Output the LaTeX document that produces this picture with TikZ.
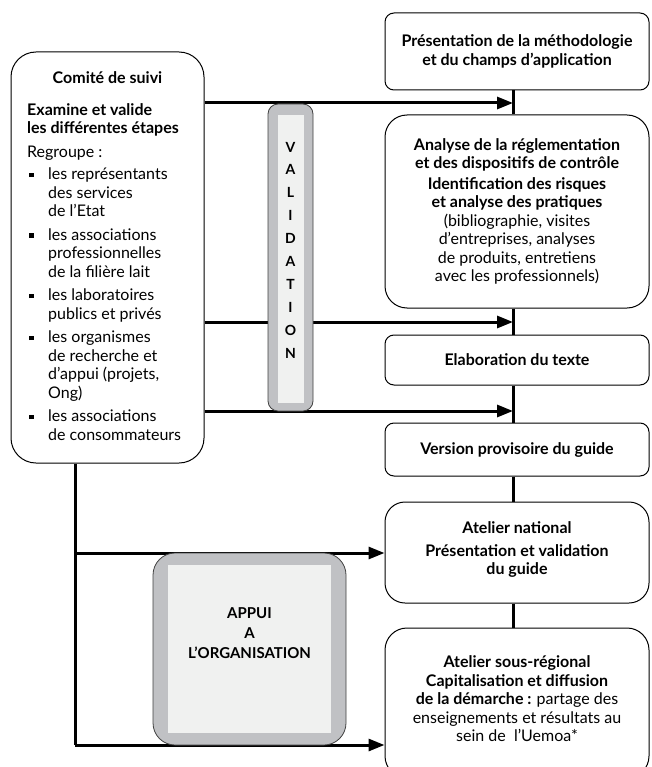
\documentclass[tikz,border=0pt]{standalone}
\usepackage{fontspec}
\setmainfont{Lato}
\usetikzlibrary{arrows.meta, positioning}
\tikzset{>={Triangle[length=16pt,width=12pt]}}
\definecolor{barfill}{RGB}{192,193,196}
\definecolor{barin}{RGB}{240,241,240}
\newcommand{\puce}{\makebox[21pt][l]{\hspace{2pt}\raisebox{2.5pt}{\rule{4.5pt}{4.5pt}}}}
\newcommand{\retrait}{\hspace*{21pt}}

\begin{document}
\begin{tikzpicture}[x=1pt, y=-1pt,
    etape/.style={draw, line width=1pt, rounded corners=9pt, align=center, inner sep=0pt,
      minimum width=264pt, font=\bfseries\fontsize{16}{18.5}\selectfont},
    cadre/.style={draw, line width=1pt, rounded corners=25pt, inner sep=0pt},
    fleche/.style={line width=3pt},
    barre/.style={draw=black!75, line width=0.8pt, fill=barfill, rounded corners=10pt, inner sep=0pt}]
		\useasboundingbox (0,0) rectangle (651,767);
		% etapes
		\node[etape, minimum height=77pt] (pres) at (517,51.5) {Présentation de la méthodologie\\et du champs d’application};
		\node[etape, rounded corners=22pt, minimum height=193pt] (anal) at (517,211.5) {Analyse de la réglementation\\et des dispositifs de contrôle\\[2pt]
			Identification des risques\\et analyse des pratiques\\
			\mdseries(bibliographie, visites\\\mdseries d’entreprises, analyses\\\mdseries de produits, entretiens\\\mdseries avec les professionnels)};
		\node[etape, minimum height=50pt] (elab) at (517,360) {Elaboration du texte};
		\node[etape, minimum height=53pt] (vers) at (517,449.5) {Version provisoire du guide};
		\node[etape, rounded corners=20pt, minimum height=101pt] (atnat) at (517,552.5) {Atelier national\\[4pt]Présentation et validation\\du guide\\[-10pt]};
		\node[etape, rounded corners=22pt, minimum height=150pt] (atsr) at (517,703) {Atelier sous-régional\\Capitalisation et diffusion\\
			de la démarche : \mdseries partage des\\\mdseries enseignements et résultats au\\\mdseries sein de\ \ l’Uemoa*\\[-10.5pt]};
		% comite
		\node[cadre, minimum width=193pt, minimum height=411pt] (suivi) at (107.5,257.5) {};
		\node[font=\bfseries\fontsize{16}{18.5}\selectfont] (titre) at (107.5,78) {Comité de suivi};
		\node[anchor=north west, align=left, inner sep=0pt, font=\fontsize{16}{18.5}\selectfont] (membres) at (27,103) {%
			\textbf{Examine et valide}\\\textbf{les différentes étapes}\\[5pt]
			Regroupe :\\[4pt]
			\puce les représentants\\\retrait des services\\\retrait de l’Etat\\[5pt]
			\puce les associations\\\retrait professionnelles\\\retrait de la filière lait\\[5pt]
			\puce les laboratoires\\\retrait publics et privés\\[5pt]
			\puce les organismes\\\retrait de recherche et\\\retrait d’appui (projets,\\\retrait Ong)\\[5pt]
			\puce les associations\\\retrait de consommateurs};
		% liaisons
		\coordinate (j1) at (513,103);
		\coordinate (j2) at (513,322);
		\coordinate (j3) at (513,411);
		\coordinate (c1) at (75,553);
		\coordinate (c2) at (75,745);
		\draw[fleche] (pres.south -| j1) -- (anal.north -| j1);
		\draw[fleche] (anal.south -| j1) -- (elab.north -| j1);
		\draw[fleche] (elab.south -| j1) -- (vers.north -| j1);
		\draw[fleche] (vers.south -| j1) -- (atnat.north -| j1);
		\draw[fleche] (atnat.south -| j1) -- (atsr.north -| j1);
		\draw[fleche, ->] (suivi.east |- j1) -- (j1);
		\draw[fleche, ->] (suivi.east |- j2) -- (j2);
		\draw[fleche, ->] (suivi.east |- j3) -- (j3);
		\draw[fleche] (suivi.south -| c1) -- (c2);
		\draw[fleche, ->] (c1) -- (atnat.west |- c1);
		\draw[fleche, ->] (c2) -- (atsr.west |- c2);
		% validation
		\node[barre, minimum width=45pt, minimum height=307pt] (valid) at (290.5,257.5) {};
		\fill[barin] ([shift={(10,11)}]valid.north west) rectangle ([shift={(-9,-8)}]valid.south east);
		\node[align=center, font=\bfseries\fontsize{14}{22.9}\selectfont] (vtxt) at (290.5,250) {V\\A\\L\\I\\D\\A\\T\\I\\O\\N};
		% appui
		\node[barre, rounded corners=22pt, minimum width=193pt, minimum height=192pt] (appui) at (249.5,649) {};
		\fill[barin] ([shift={(15,12)}]appui.north west) rectangle ([shift={(-15,-12)}]appui.south east);
		\node[align=center, font=\bfseries\fontsize{15}{20}\selectfont] (atxt) at (249.5,633) {APPUI\\A\\L’ORGANISATION};
		\end{tikzpicture}
\end{document}
